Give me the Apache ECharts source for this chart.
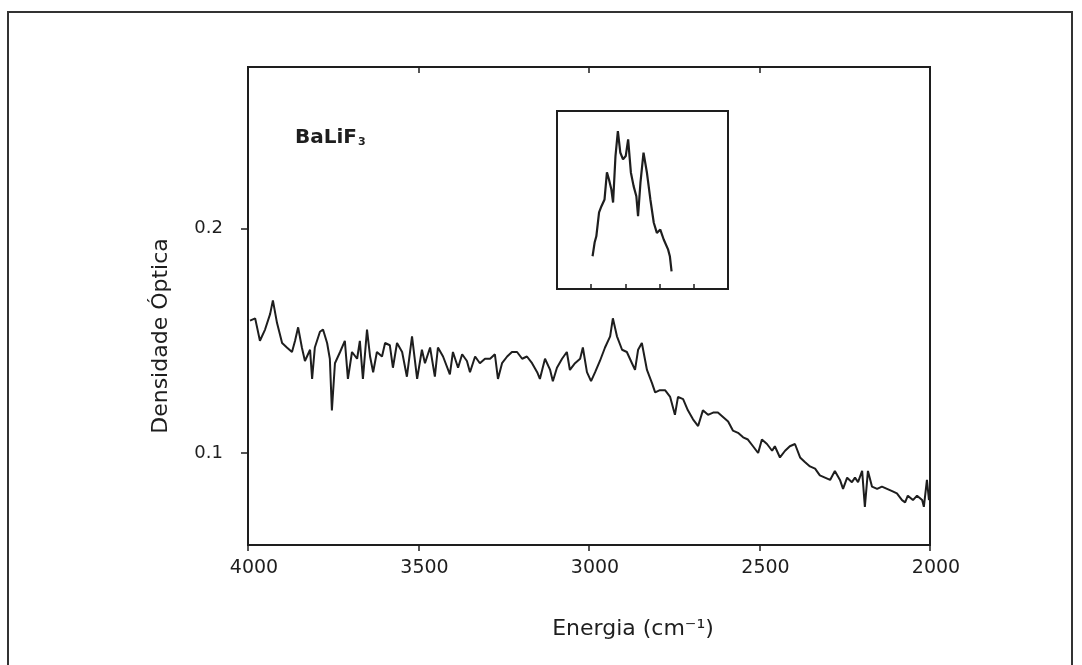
<!DOCTYPE html>
<html>
<head>
<meta charset="utf-8">
<script src="https://cdn.jsdelivr.net/npm/echarts@6/dist/echarts.min.js"></script>
<style>
  html, body { margin: 0; padding: 0; background: #fff; }
  #chart { width: 1082px; height: 665px; }
</style>
</head>
<body>
<div id="chart"></div>
<script>
// spectrum: wavenumber (cm-1) and optical density
const waveNumbers = [
    3994, 3979, 3965, 3950, 3935, 3927, 3915, 3900, 3886, 3871, 3862, 3853, 3842, 3833, 3818, 3812,
    3804, 3789, 3780, 3768, 3760, 3754, 3745, 3730, 3716, 3707, 3695, 3680, 3672, 3663, 3651, 3642,
    3633, 3622, 3607, 3598, 3584, 3575, 3563, 3548, 3534, 3519, 3504, 3490, 3481, 3466, 3452, 3443,
    3428, 3408, 3399, 3384, 3372, 3358, 3349, 3334, 3320, 3305, 3290, 3276, 3267, 3255, 3240, 3226,
    3211, 3196, 3182, 3167, 3152, 3144, 3129, 3114, 3106, 3094, 3079, 3065, 3056, 3041, 3026, 3018,
    3006, 2994, 2982, 2968, 2953, 2938, 2930, 2918, 2903, 2889, 2874, 2865, 2856, 2845, 2830, 2815,
    2806, 2792, 2777, 2762, 2748, 2739, 2724, 2710, 2695, 2680, 2666, 2651, 2636, 2622, 2607, 2592,
    2578, 2563, 2548, 2534, 2519, 2504, 2493, 2478, 2463, 2455, 2440, 2425, 2411, 2396, 2381, 2367,
    2352, 2337, 2323, 2308, 2293, 2279, 2264, 2255, 2243, 2229, 2220, 2211, 2199, 2191, 2182, 2170,
    2155, 2141, 2126, 2111, 2097, 2082, 2073, 2065, 2050, 2038, 2023, 2018, 2009, 2003
];
const density = [
    0.159, 0.160, 0.150, 0.155, 0.162, 0.168, 0.158, 0.149, 0.147, 0.145, 0.150, 0.156, 0.147, 0.141, 0.146, 0.133,
    0.147, 0.154, 0.155, 0.149, 0.142, 0.119, 0.140, 0.145, 0.150, 0.133, 0.145, 0.142, 0.150, 0.133, 0.155, 0.143,
    0.136, 0.145, 0.143, 0.149, 0.148, 0.138, 0.149, 0.145, 0.134, 0.152, 0.133, 0.146, 0.140, 0.147, 0.134, 0.147,
    0.143, 0.135, 0.145, 0.138, 0.144, 0.141, 0.136, 0.143, 0.140, 0.142, 0.142, 0.144, 0.133, 0.140, 0.143, 0.145,
    0.145, 0.142, 0.143, 0.140, 0.136, 0.133, 0.142, 0.137, 0.132, 0.138, 0.142, 0.145, 0.137, 0.140, 0.142, 0.147,
    0.136, 0.132, 0.136, 0.141, 0.147, 0.152, 0.160, 0.152, 0.146, 0.145, 0.140, 0.137, 0.146, 0.149, 0.137, 0.131,
    0.127, 0.128, 0.128, 0.125, 0.117, 0.125, 0.124, 0.119, 0.115, 0.112, 0.119, 0.117, 0.118, 0.118, 0.116, 0.114,
    0.110, 0.109, 0.107, 0.106, 0.103, 0.100, 0.106, 0.104, 0.101, 0.103, 0.098, 0.101, 0.103, 0.104, 0.098, 0.096,
    0.094, 0.093, 0.090, 0.089, 0.088, 0.092, 0.088, 0.084, 0.089, 0.087, 0.089, 0.087, 0.092, 0.076, 0.092, 0.085,
    0.084, 0.085, 0.084, 0.083, 0.082, 0.079, 0.078, 0.081, 0.079, 0.081, 0.079, 0.076, 0.088, 0.079
];

// inset: the 3000 cm-1 band on its own scale (arbitrary units)
const insetWaveNumbers = [
    3096, 3090, 3085, 3077, 3070, 3061, 3054, 3048, 3041, 3036, 3029, 3022, 3015, 3007, 2999, 2992,
    2984, 2976, 2968, 2963, 2956, 2947, 2937, 2927, 2917, 2908, 2898, 2888, 2875, 2870, 2865
];
const insetDensity = [
    0.184, 0.261, 0.296, 0.430, 0.465, 0.503, 0.655, 0.615, 0.559, 0.486, 0.747, 0.887, 0.767, 0.728, 0.747, 0.841,
    0.655, 0.578, 0.521, 0.409, 0.597, 0.766, 0.653, 0.503, 0.372, 0.315, 0.334, 0.278, 0.221, 0.184, 0.099
];

const xTicks = [4000, 3500, 3000, 2500, 2000];
const yTicks = [0.1, 0.2];

const FONT = 'DejaVu Sans, sans-serif';
const INK = '#1e1e1e';

const chart = echarts.init(document.getElementById('chart'));

chart.setOption({
    animation: false,
    backgroundColor: '#fff',
    grid: [
        { left: 248, top: 67, width: 682, height: 478, show: true, borderColor: INK, borderWidth: 2 },
        { left: 557, top: 111, width: 171, height: 178, show: true, borderColor: INK, borderWidth: 2 }
    ],
    xAxis: [
        {
            gridIndex: 0, type: 'value', inverse: true, min: 2000, max: 4000, interval: 500,
            splitLine: { show: false },
            axisLine: { show: true, lineStyle: { color: INK, width: 2 } },
            axisTick: { show: true, inside: false, length: 6, lineStyle: { color: INK, width: 1.5 } },
            axisLabel: {
                margin: 14, fontFamily: FONT, fontSize: 19, color: INK,
                padding: [0, 0, 0, 12],
                customValues: xTicks,
                formatter: (v) => String(v)
            }
        },
        {
            gridIndex: 0, type: 'value', position: 'top', inverse: true, min: 2000, max: 4000, interval: 500,
            splitLine: { show: false },
            axisLine: { show: false },
            axisTick: { show: true, inside: true, length: 6, lineStyle: { color: INK, width: 1.5 } },
            axisLabel: { show: false }
        },
        {
            gridIndex: 1, type: 'value', inverse: true, min: 2700, max: 3200, interval: 100,
            splitLine: { show: false },
            axisLine: { show: false },
            axisTick: { show: true, inside: true, length: 5, lineStyle: { color: INK, width: 1.5 } },
            axisLabel: { show: false }
        }
    ],
    yAxis: [
        {
            gridIndex: 0, type: 'value', min: 0.059, max: 0.272,
            splitLine: { show: false },
            axisLine: { show: true, lineStyle: { color: INK, width: 2 } },
            axisTick: {
                show: true, inside: false, length: 7, lineStyle: { color: INK, width: 1.5 },
                customValues: yTicks
            },
            axisLabel: {
                margin: 25, fontFamily: FONT, fontSize: 18, color: INK,
                customValues: yTicks,
                formatter: (v) => v.toFixed(1)
            }
        },
        {
            gridIndex: 1, type: 'value', min: 0, max: 1,
            splitLine: { show: false },
            axisLine: { show: false },
            axisTick: { show: false },
            axisLabel: { show: false }
        }
    ],
    series: [
        {
            type: 'line',
            xAxisIndex: 0, yAxisIndex: 0,
            data: waveNumbers.map((w, i) => [w, density[i]]),
            showSymbol: false,
            lineStyle: { color: INK, width: 2 }
        },
        {
            type: 'line',
            xAxisIndex: 2, yAxisIndex: 1,
            data: insetWaveNumbers.map((w, i) => [w, insetDensity[i]]),
            showSymbol: false,
            lineStyle: { color: INK, width: 2.2 }
        }
    ],
    graphic: [
        {
            type: 'rect',
            shape: { x: 8, y: 12, width: 1064, height: 700 },
            style: { fill: null, stroke: '#333', lineWidth: 2 },
            silent: true
        },
        {
            type: 'text',
            x: 295, y: 138,
            style: {
                text: 'BaLiF{sub|3}',
                fontFamily: FONT, fontSize: 20, fontWeight: 'bold', fill: INK,
                align: 'left', verticalAlign: 'middle',
                rich: {
                    sub: { fontFamily: FONT, fontSize: 11, fontWeight: 'bold', fill: INK, padding: [8, 0, 0, 1] }
                }
            }
        },
        {
            type: 'text',
            x: 633, y: 629,
            style: {
                text: 'Energia (cm⁻¹)',
                fontFamily: FONT, fontSize: 22, fill: INK,
                align: 'center', verticalAlign: 'middle'
            }
        },
        {
            type: 'text',
            x: 161, y: 336,
            rotation: Math.PI / 2,
            style: {
                text: 'Densidade Óptica',
                fontFamily: FONT, fontSize: 22, fill: INK,
                align: 'center', verticalAlign: 'middle'
            }
        }
    ]
});

window.addEventListener('resize', () => chart.resize());
</script>
</body>
</html>
